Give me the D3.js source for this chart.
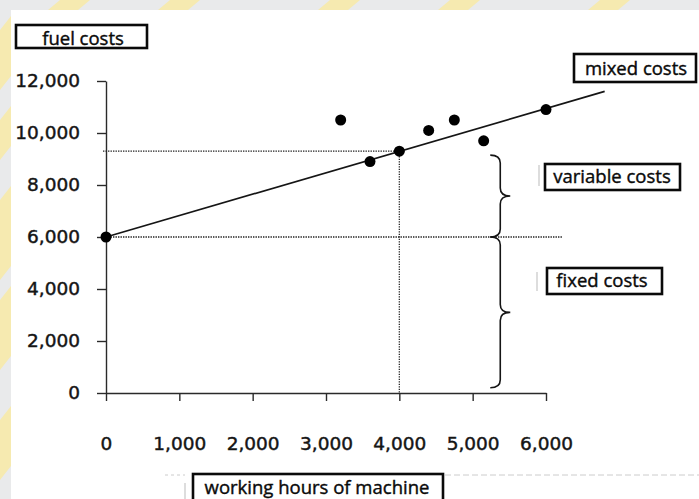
<!DOCTYPE html>
<html>
<head>
<meta charset="utf-8">
<script src="https://cdn.jsdelivr.net/npm/d3@7/dist/d3.min.js"></script>
<style>
  html, body { margin: 0; padding: 0; background: #e9eaeb; }
  svg { display: block; }
</style>
</head>
<body>
<svg id="chart" width="699" height="499"></svg>
<script>
// ---------- data ----------
const hoursTicks = [0, 1000, 2000, 3000, 4000, 5000, 6000];
const costTicks = [0, 2000, 4000, 6000, 8000, 10000, 12000];
const obsHours = [0, 3200, 3600, 4000, 4400, 4750, 5150, 6000];
const obsCost  = [6000, 10500, 8900, 9300, 10100, 10500, 9700, 10900];
const trendHours = [0, 6800];
const trendCost  = [6000, 11600];
const guideHCost = [9300, 6000];
const guideHTo   = [4000, 6230];
const guideVHours = [4000];
const guideVTo    = [9300];
const braceHours = [5240, 5240];
const braceFrom  = [9150, 6000];
const braceTo    = [6000, 200];
const yTitle = "fuel costs";
const xTitle = "working hours of machine";
const annotations = ["mixed costs", "variable costs", "fixed costs"];

// ---------- layout ----------
const svg = d3.select("#chart");
const x = d3.scaleLinear().domain([0, 6000]).range([106, 546]);
const y = d3.scaleLinear().domain([0, 12000]).range([393, 81]);
const ink = "#151515";

// background: grey band with faint watermark, white page
svg.append("rect").attr("width", 699).attr("height", 499).attr("fill", "#e9eaeb");
const wm = svg.append("g").attr("fill", "#f6eab0");
[60, 170, 330, 450, 600].forEach(a => {
  wm.append("path").attr("d", `M${a},0 L${a + 30},0 L${a + 18},10 L${a - 12},10 Z`);
});
[[30, 60], [120, 40], [200, 80], [300, 70], [420, 60], [520, 40]].forEach(([b, h]) => {
  wm.append("path").attr("d", `M0,${b} L11,${b - 14} L11,${b - 14 + h} L0,${b + h} Z`);
});
svg.append("rect").attr("x", 11).attr("y", 10).attr("width", 688).attr("height", 489).attr("fill", "#ffffff");

// ---------- axes ----------
const yAxis = d3.axisLeft(y).tickValues(costTicks).tickSize(9).tickSizeOuter(0)
  .tickPadding(17).tickFormat(d3.format(","));
const gy = svg.append("g").attr("transform", `translate(${x(0)},0)`).call(yAxis);
gy.selectAll("text");

const xAxis = d3.axisBottom(x).tickValues(hoursTicks).tickSize(8).tickSizeOuter(0)
  .tickFormat(d3.format(","));
const gx = svg.append("g").attr("transform", `translate(0,${y(0)})`).call(xAxis);
gx.selectAll("text").attr("dy", null).attr("y", 57);

[gx, gy].forEach(g => {
  g.selectAll("text").attr("font-family", "DejaVu Sans").attr("font-size", 18.5)
    .attr("fill", ink).attr("stroke", ink).attr("stroke-width", 0.45);
  g.selectAll("line, path").attr("stroke", "#2a2a2a").attr("stroke-width", 1.4);
});

// ---------- guide lines (dotted) ----------
const dotted = svg.append("g").attr("stroke", "#222").attr("stroke-width", 1.3)
  .attr("stroke-dasharray", "1.4,1.1");
guideHCost.forEach((c, i) => {
  dotted.append("line").attr("x1", x(0) - 3).attr("x2", x(guideHTo[i]))
    .attr("y1", y(c)).attr("y2", y(c));
});
guideVHours.forEach((h, i) => {
  dotted.append("line").attr("x1", x(h)).attr("x2", x(h))
    .attr("y1", y(guideVTo[i])).attr("y2", y(0));
});

// ---------- trend line ----------
const line = d3.line().x(d => x(d[0])).y(d => y(d[1]));
svg.append("path").datum(trendHours.map((h, i) => [h, trendCost[i]]))
  .attr("d", line).attr("fill", "none").attr("stroke", ink).attr("stroke-width", 1.7);

// ---------- points ----------
svg.append("g").selectAll("circle").data(obsHours.map((h, i) => [h, obsCost[i]]))
  .join("circle").attr("cx", d => x(d[0])).attr("cy", d => y(d[1])).attr("r", 5.5)
  .attr("fill", "#000");

// ---------- braces ----------
function bracePath(bx, ya, yb, w) {
  const ym = (ya + yb) / 2, q = w * 0.5, r = 8;
  return `M${bx},${ya} Q${bx + q},${ya} ${bx + q},${ya + r} L${bx + q},${ym - r} ` +
         `Q${bx + q},${ym} ${bx + w},${ym} Q${bx + q},${ym} ${bx + q},${ym + r} ` +
         `L${bx + q},${yb - r} Q${bx + q},${yb} ${bx},${yb}`;
}
braceHours.forEach((h, i) => {
  svg.append("path").attr("d", bracePath(x(h), y(braceFrom[i]), y(braceTo[i]), 20))
    .attr("fill", "none").attr("stroke", ink).attr("stroke-width", 1.6);
});

// ---------- boxed labels ----------
function boxLabel(text, bx, by, bw, bh, tx, tb, fs) {
  const g = svg.append("g");
  g.append("rect").attr("x", bx).attr("y", by).attr("width", bw).attr("height", bh)
    .attr("fill", "#fff").attr("stroke", "#0a0a0a").attr("stroke-width", 2.6);
  g.append("text").attr("x", tx).attr("y", tb).attr("text-anchor", "middle")
    .attr("font-family", "Open Sans").attr("font-size", fs).attr("fill", "#0a0a0a")
    .attr("stroke", "#0a0a0a").attr("stroke-width", 0.4).text(text);
}
boxLabel(yTitle, 16, 25, 131, 23, 83, 45, 18.5);
boxLabel(annotations[0], 574, 54, 122, 28, 636, 75, 18.5);
boxLabel(annotations[1], 545, 164, 135, 26, 612, 183, 18.5);
boxLabel(annotations[2], 547, 268, 115, 26, 602, 287, 18.5);
boxLabel(xTitle, 193, 474, 250, 32, 317, 494, 18.5);

// faint scanning artefacts
const faint = svg.append("g").attr("stroke", "#bbb").attr("stroke-width", 1);
faint.append("line").attr("x1", 539).attr("x2", 539).attr("y1", 165).attr("y2", 186);
faint.append("line").attr("x1", 537).attr("x2", 537).attr("y1", 272).attr("y2", 291);
faint.append("line").attr("x1", 185).attr("x2", 185).attr("y1", 483).attr("y2", 499);
faint.append("line").attr("x1", 445).attr("x2", 699).attr("y1", 475).attr("y2", 475)
  .attr("stroke-dasharray", "6,3").attr("stroke", "#ccc");
faint.append("line").attr("x1", 165).attr("x2", 185).attr("y1", 475).attr("y2", 475)
  .attr("stroke-dasharray", "3,3").attr("stroke", "#ccc");
</script>
</body>
</html>
